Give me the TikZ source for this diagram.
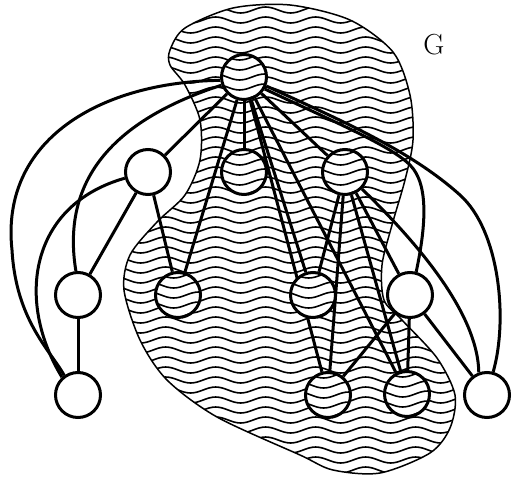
\documentclass[tikz,border=0pt]{standalone}
\usetikzlibrary{decorations.pathmorphing}
\pgfdeclarelayer{back}
\pgfdeclarelayer{edges}
\pgfsetlayers{back,edges,main}
\tikzset{
 wavy/.style={decorate, decoration={snake, segment length=50pt, amplitude=3pt}, line width=1.6pt},
 vtx/.style={circle, draw, line width=3pt, fill=white, minimum size=45pt, inner sep=0pt},
 hvtx/.style={vtx, path picture={\foreach \k in {-3,...,3}{\draw[wavy] ([shift={(-45,\k*10)}]path picture bounding box.center) -- ++(100,0);}}},
 edge/.style={line width=3pt},
 blobline/.style={line width=1.5pt},
 lbl/.style={font=\fontsize{29}{31}\selectfont, inner sep=0pt}
}
\begin{document}
\begin{tikzpicture}[x=1pt,y=-1pt]
\useasboundingbox (0,0) rectangle (512,477);
% nodes
\node[hvtx] (T) at (244,77) {};
\node[vtx]  (A) at (148,172) {};
\node[hvtx] (B) at (244,172) {};
\node[hvtx] (C) at (345,172) {};
\node[vtx]  (D) at (78,295) {};
\node[hvtx] (E) at (178,295) {};
\node[hvtx] (F) at (313,295) {};
\node[vtx]  (H) at (410,295) {};
\node[vtx]  (I) at (78,395) {};
\node[hvtx] (J) at (328,395) {};
\node[hvtx] (K) at (407,394) {};
\node[vtx]  (L) at (487,395) {};
\node[lbl] (g) at (434,45) {G};
% region
\begin{pgfonlayer}{back}
\begin{scope}
\clip plot[smooth cycle] coordinates {(170,50) (185,28) (233,8) (290,5) (350,20) (393,52) (410,95) (413,140) (405,180) (392,225) (382,265) (384,300) (402,320) (437,358) (455,395) (450,428) (430,453) (380,473) (333,470) (300,455) (217,417) (167,380) (140,340) (124,290) (130,255) (157,222) (185,195) (200,160) (200,120) (185,85) (170,65)};
\foreach \k in {0,...,48}{\draw[wavy] (100,\k*10) -- (500,\k*10);}
\end{scope}
\draw[blobline] plot[smooth cycle] coordinates {(170,50) (185,28) (233,8) (290,5) (350,20) (393,52) (410,95) (413,140) (405,180) (392,225) (382,265) (384,300) (402,320) (437,358) (455,395) (450,428) (430,453) (380,473) (333,470) (300,455) (217,417) (167,380) (140,340) (124,290) (130,255) (157,222) (185,195) (200,160) (200,120) (185,85) (170,65)};
\end{pgfonlayer}
% edges
\begin{pgfonlayer}{edges}
\draw[edge] (T.188) .. controls (100,82) and (0,140) .. (12,250) .. controls (16,320) and (50,350) .. (I.125);
\draw[edge] (T.200) .. controls (120,118) and (60,175) .. (D.95);
\draw[edge] (A.195) .. controls (30,205) and (15,300) .. (I.132);
\draw[edge] (T.-30) .. controls (330,120) and (390,145) .. (410,165) .. controls (430,185) and (425,230) .. (H.75);
\draw[edge] (T.-22) .. controls (340,120) and (410,150) .. (460,195) .. controls (500,231) and (508,320) .. (L.75);
\draw[edge] (C.-45) .. controls (430,255) and (478,320) .. (L.110);
\draw[edge] (T) -- (A);
\draw[edge] (T) -- (B);
\draw[edge] (T) -- (C);
\draw[edge] (T) -- (E);
\draw[edge] (T) -- (F);
\draw[edge] (T) -- (J);
\draw[edge] (T) -- (K);
\draw[edge] (A) -- (D);
\draw[edge] (A) -- (E);
\draw[edge] (D) -- (I);
\draw[edge] (C) -- (F);
\draw[edge] (C) -- (J);
\draw[edge] (C) -- (K);
\draw[edge] (C) -- (H);
\draw[edge] (H) -- (J);
\draw[edge] (H) -- (K);
\draw[edge] (H) -- (L);
\end{pgfonlayer}
\end{tikzpicture}
\end{document}
